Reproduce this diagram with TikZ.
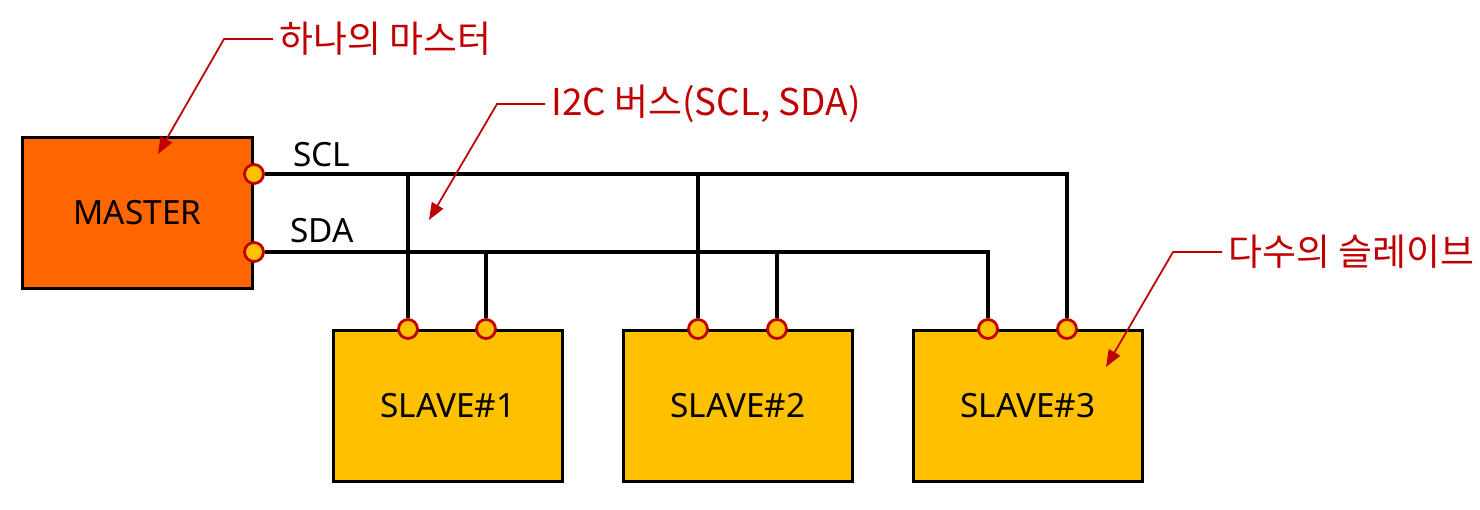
\documentclass[tikz,border=0pt]{standalone}
\usepackage{fontspec}
\setmainfont{Noto Sans}
\newfontfamily\krfont{Noto Sans CJK KR}
\usetikzlibrary{arrows.meta}
\definecolor{masterfill}{HTML}{FF6600}
\definecolor{slavefill}{HTML}{FFC000}
\definecolor{notered}{HTML}{C00000}

\begin{document}
\begin{tikzpicture}[x=0.02cm, y=-0.02cm,
  master/.style={rectangle, draw, line width=2pt, fill=masterfill,
                 minimum width=4.6cm, minimum height=3.02cm,
                 font=\fontsize{19}{23}\selectfont},
  slave/.style={rectangle, draw, line width=2pt, fill=slavefill,
                minimum width=4.58cm, minimum height=3.02cm,
                font=\fontsize{19}{23}\selectfont},
  pin/.style={circle, draw=notered, line width=1.6pt, fill=slavefill,
              minimum size=3.8mm, inner sep=0pt},
  bus/.style={line width=1.9pt, black},
  signal/.style={font=\fontsize{19}{23}\selectfont},
  note/.style={font=\krfont\fontsize{21}{25}\selectfont, text=notered},
  leader/.style={notered, line width=1pt,
                 -{Triangle[length=3.4mm, width=2.6mm]}},
]
\useasboundingbox (0,0) rectangle (1480,510);

\node[master] (m) at (137.5, 213) {MASTER};
\node[slave] (s1) at (448, 406) {SLAVE\#1};
\node[slave] (s2) at (738, 406) {SLAVE\#2};
\node[slave] (s3) at (1028, 406) {SLAVE\#3};

\node[pin] (mscl) at (254, 174) {};
\node[pin] (msda) at (254, 252) {};
\node[pin] (s1a) at (408, 329) {};
\node[pin] (s1b) at (486, 329) {};
\node[pin] (s2a) at (698, 329) {};
\node[pin] (s2b) at (777, 329) {};
\node[pin] (s3a) at (988, 329) {};
\node[pin] (s3b) at (1067, 329) {};

\node[signal] (scl) at (322, 155) {SCL};
\node[signal] (sda) at (322, 231) {SDA};

\draw[bus] (mscl) -| (s3b);
\draw[bus] (msda) -| (s3a);
\draw[bus] (s1a) -- (s1a |- mscl);
\draw[bus] (s1b) -- (s1b |- msda);
\draw[bus] (s2a) -- (s2a |- mscl);
\draw[bus] (s2b) -- (s2b |- msda);

\node[note, anchor=west] (nmaster) at (273, 39) {하나의 마스터};
\node[note, anchor=west] (nbus) at (545, 104) {I2C 버스(SCL, SDA)};
\node[note, anchor=west] (nslave) at (1222, 252) {다수의 슬레이브};
\coordinate (kmaster) at (224, 39);
\coordinate (amaster) at (158, 154);
\coordinate (kbus) at (497, 104);
\coordinate (abus) at (429, 220);
\coordinate (kslave) at (1173, 252);
\coordinate (aslave) at (1106, 367);

\draw[leader] (nmaster.west) -- (kmaster) -- (amaster);
\draw[leader] (nbus.west) -- (kbus) -- (abus);
\draw[leader] (nslave.west) -- (kslave) -- (aslave);

\end{tikzpicture}
\end{document}
